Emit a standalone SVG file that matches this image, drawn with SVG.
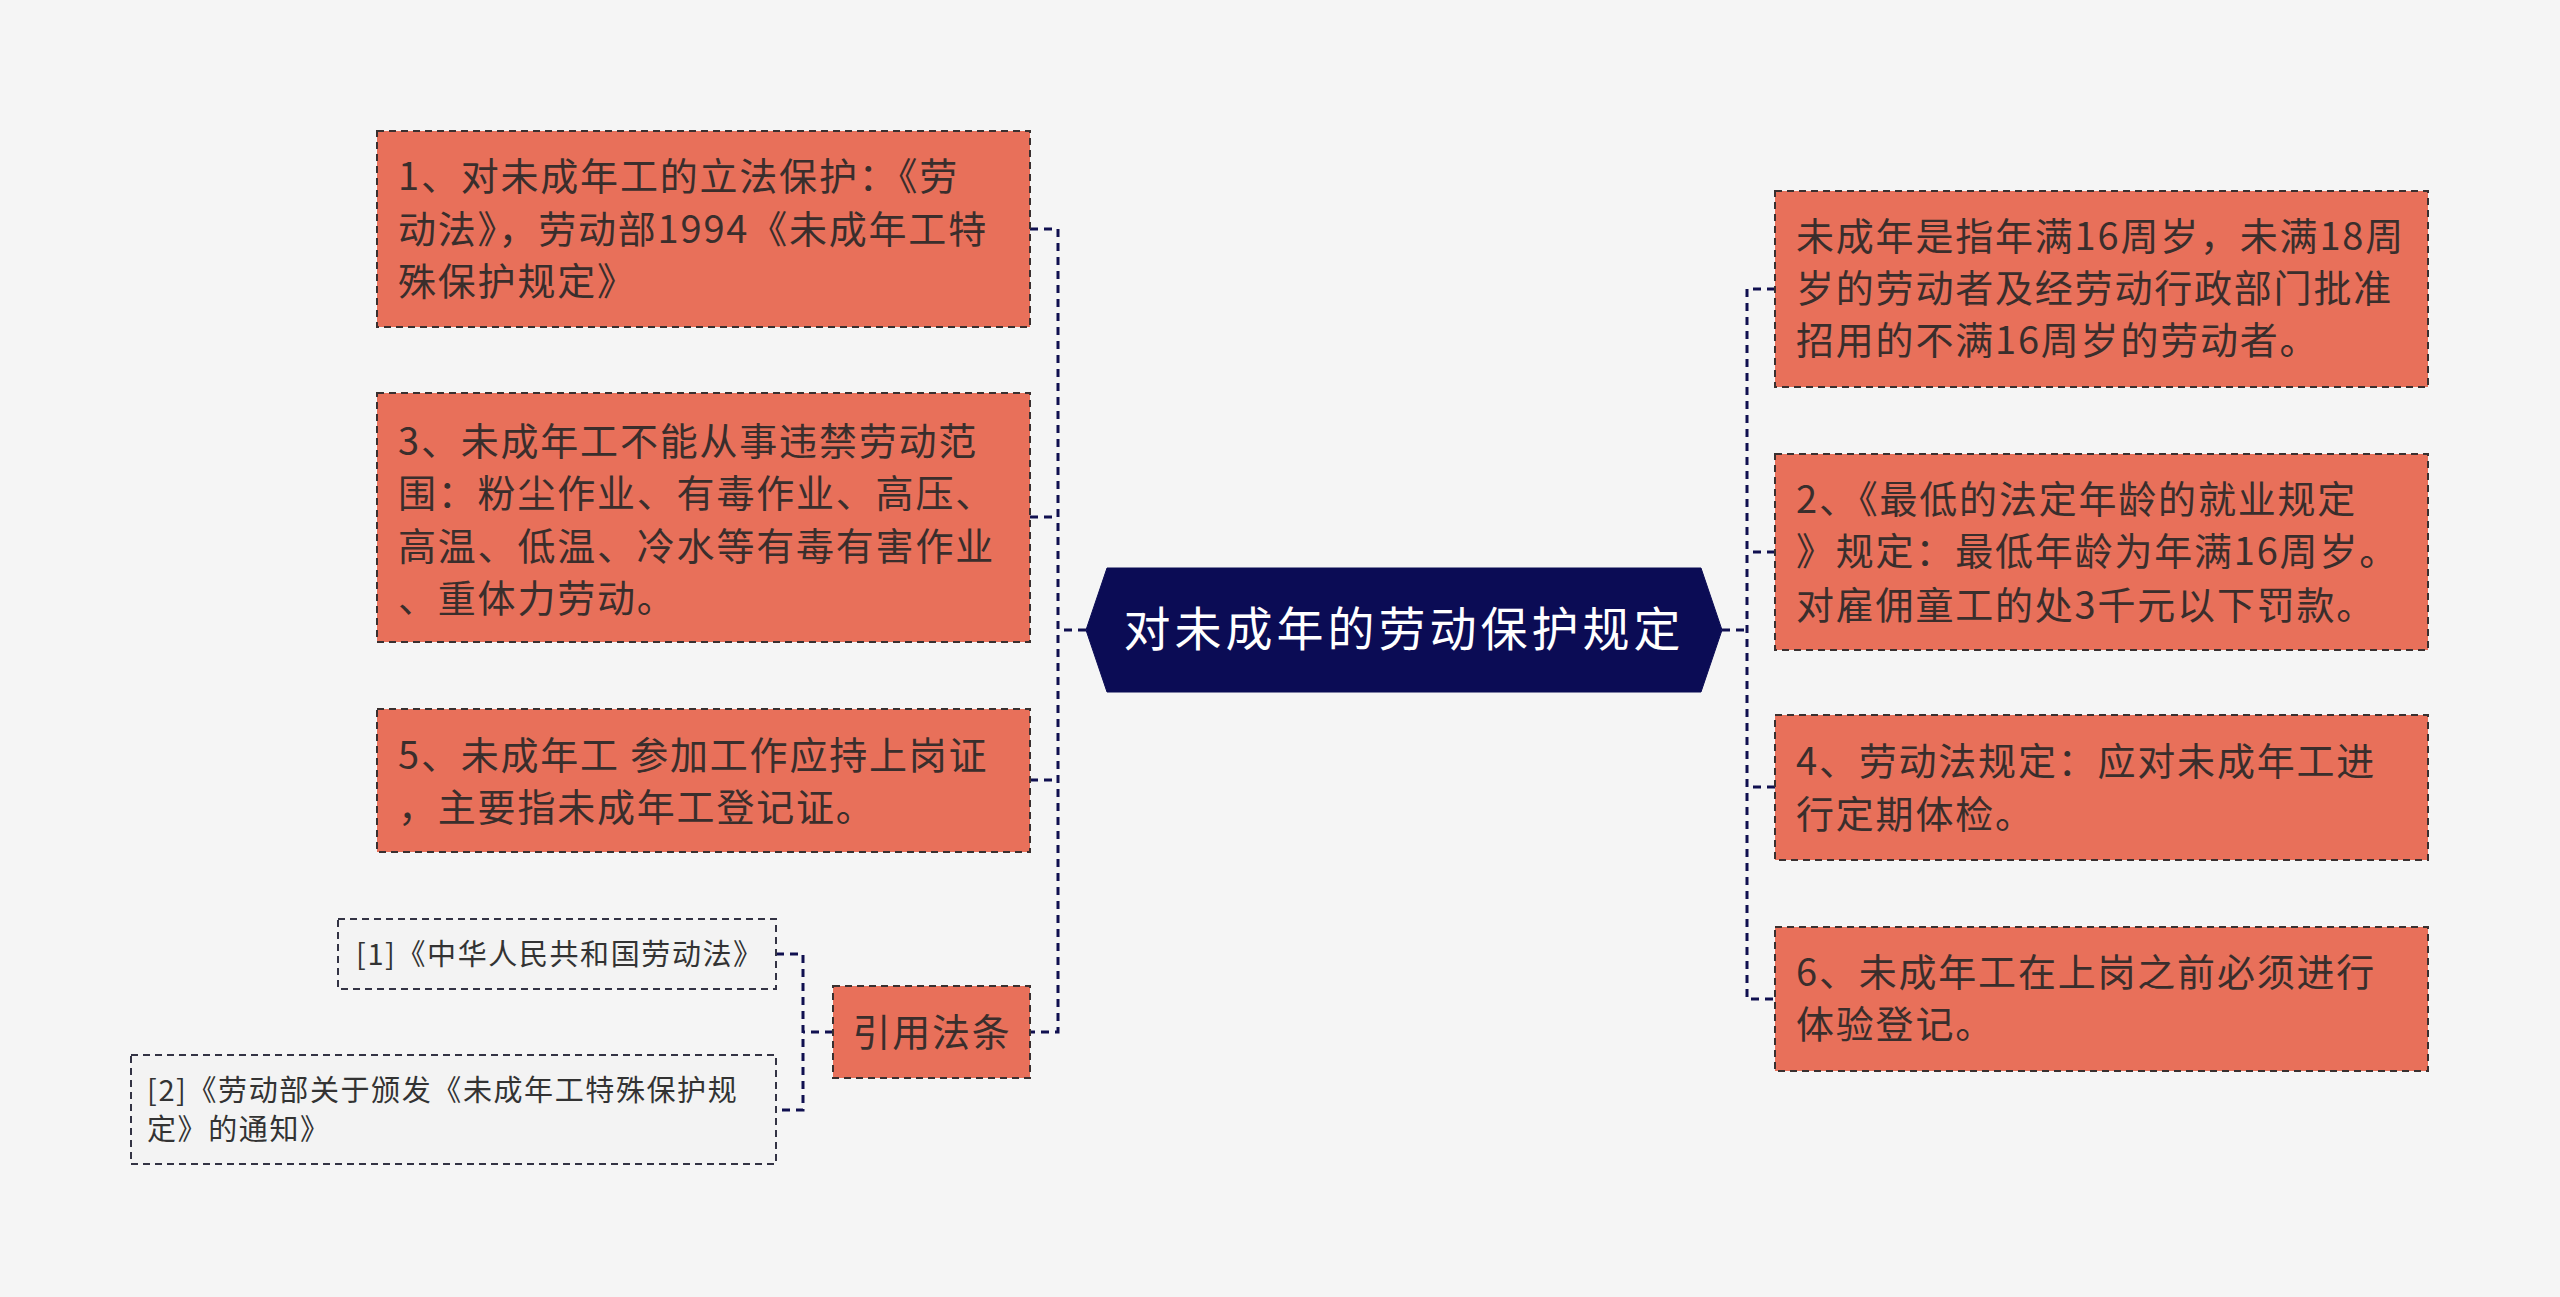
<svg xmlns="http://www.w3.org/2000/svg" width="2560" height="1297" viewBox="0 0 2560 1297">
<style>
.n{fill:#e8705a;stroke:#3a3030;stroke-width:2;stroke-dasharray:7 5}
.s{fill:#f3f3f3;stroke:#333344;stroke-width:2;stroke-dasharray:7 5}
.t{font-family:"Noto Sans CJK SC","Noto Sans",sans-serif;font-size:38px;letter-spacing:1.8px;fill:#3a2e2c}
.st{font-family:"Noto Sans CJK SC","Noto Sans",sans-serif;font-size:29px;letter-spacing:1.6px;fill:#333}
.c{fill:none;stroke:#101050;stroke-width:3;stroke-dasharray:8 6}
</style>
<rect width="2560" height="1297" fill="#f5f5f5"/>
<g id="connectors">
<path class="c" d="M1086 630H1058M1030 229H1058V1032H1030M1030 517H1058M1030 780H1058"/>
<path class="c" d="M1722 630H1747M1775 289H1747V999H1775M1775 552H1747M1775 787H1747"/>
<path class="c" d="M833 1032H803M776 954H803V1110H776"/>
</g>
<g id="center">
<polygon points="1086,630 1107,568 1701,568 1722,630 1701,692 1107,692" fill="#0b0c55" stroke="#0b0c55"/>
<text x="1404" y="646" text-anchor="middle" font-family="Noto Sans CJK SC,sans-serif" font-size="47" letter-spacing="4" fill="#fff">对未成年的劳动保护规定</text>
</g>
<g id="l1"><rect class="n" x="377" y="131" width="653" height="196"/>
<text class="t" x="398" y="190">1、对未成年工的立法保护：《劳</text><text class="t" x="398" y="243">动法》，劳动部1994《未成年工特</text><text class="t" x="398" y="295">殊保护规定》</text></g>
<g id="l3"><rect class="n" x="377" y="393" width="653" height="249"/>
<text class="t" x="398" y="455">3、未成年工不能从事违禁劳动范</text><text class="t" x="398" y="507">围：粉尘作业、有毒作业、高压、</text><text class="t" x="398" y="560">高温、低温、冷水等有毒有害作业</text><text class="t" x="398" y="612">、重体力劳动。</text></g>
<g id="l5"><rect class="n" x="377" y="709" width="653" height="143"/>
<text class="t" x="398" y="769">5、未成年工 参加工作应持上岗证</text><text class="t" x="398" y="821">，主要指未成年工登记证。</text></g>
<g id="ref"><rect class="n" x="833" y="986" width="197" height="92"/>
<text class="t" x="932" y="1046" text-anchor="middle">引用法条</text></g>
<g id="ref1"><rect class="s" x="338" y="919" width="438" height="70"/>
<text class="st" x="356" y="965">[1]《中华人民共和国劳动法》</text></g>
<g id="ref2"><rect class="s" x="131" y="1055" width="645" height="109"/>
<text class="st" x="147" y="1101">[2]《劳动部关于颁发《未成年工特殊保护规</text><text class="st" x="147" y="1140">定》的通知》</text></g>
<g id="r1"><rect class="n" x="1775" y="191" width="653" height="196"/>
<text class="t" x="1796" y="250">未成年是指年满16周岁，未满18周</text><text class="t" x="1796" y="302">岁的劳动者及经劳动行政部门批准</text><text class="t" x="1796" y="354">招用的不满16周岁的劳动者。</text></g>
<g id="r2"><rect class="n" x="1775" y="454" width="653" height="196"/>
<text class="t" x="1796" y="513">2、《最低的法定年龄的就业规定</text><text class="t" x="1796" y="565">》规定：最低年龄为年满16周岁。</text><text class="t" x="1796" y="619">对雇佣童工的处3千元以下罚款。</text></g>
<g id="r4"><rect class="n" x="1775" y="715" width="653" height="145"/>
<text class="t" x="1796" y="775">4、劳动法规定：应对未成年工进</text><text class="t" x="1796" y="828">行定期体检。</text></g>
<g id="r6"><rect class="n" x="1775" y="927" width="653" height="144"/>
<text class="t" x="1796" y="986">6、未成年工在上岗之前必须进行</text><text class="t" x="1796" y="1038">体验登记。</text></g>
</svg>
